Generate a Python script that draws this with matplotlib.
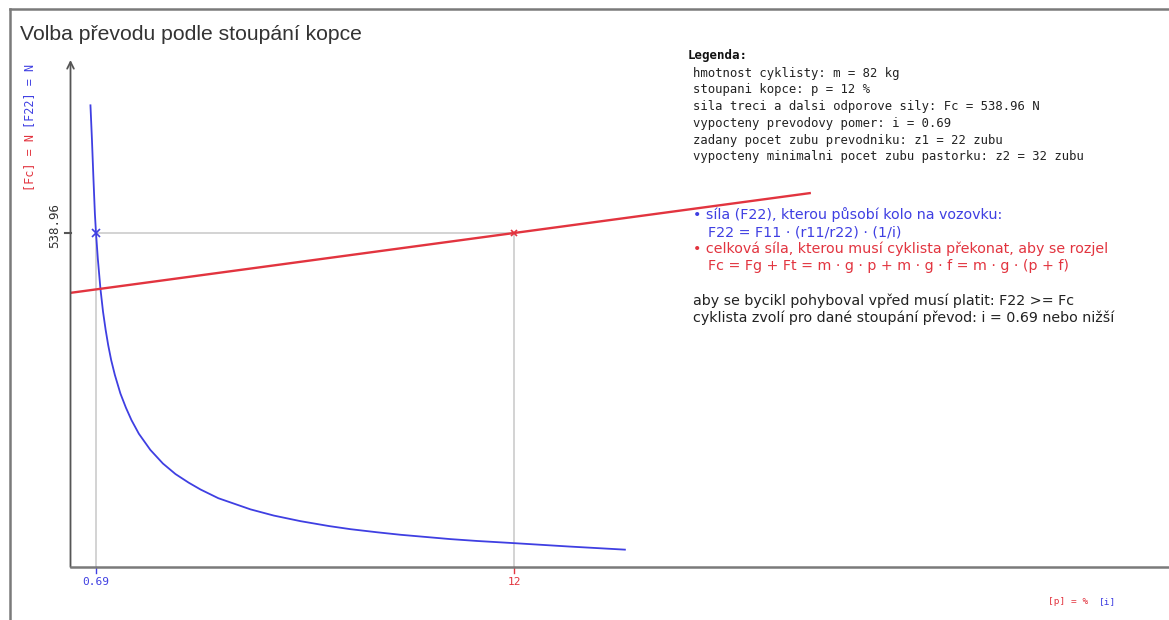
import matplotlib
matplotlib.use("Agg")
import matplotlib.pyplot as plt
from matplotlib.lines import Line2D

W, H = 1169, 620

# Force on the road F22 as a function of the gear ratio i
gear_ratio = [0.54, 0.58, 0.62, 0.66, 0.69, 0.74, 0.81, 0.88, 0.95, 1.02, 1.10,
              1.20, 1.35, 1.50, 1.65, 1.85, 2.16, 2.50, 2.84, 3.20, 3.52, 4.00,
              4.87, 5.50, 6.22, 7.00, 7.58, 8.30, 8.93, 10.28, 11.0, 12.0, 13.5, 15.0]
force_f22 = [745.0, 690.0, 628.0, 570.0, 538.96, 497.0, 449.0, 412.0, 383.0, 358.0,
             334.0, 310.0, 280.0, 257.0, 237.0, 215.0, 189.0, 167.0, 150.0, 136.0,
             125.0, 111.0, 93.0, 83.0, 74.0, 66.0, 61.0, 56.0, 52.0, 45.0, 42.0,
             38.5, 33.0, 28.0]

# Total resistance Fc as a function of the slope p [%]
slope = [0, 12, 20]
force_fc = [442.4, 538.96, 603.3]

chosen_ratio = 0.69
chosen_slope = 12
chosen_force = 538.96

x_tick_labels = ["0.69", "12"]

title = "Volba převodu podle stoupání kopce"
legend_lines = [
    "hmotnost cyklisty: m = 82 kg",
    "stoupani kopce: p = 12 %",
    "sila treci a dalsi odporove sily: Fc = 538.96 N",
    "vypocteny prevodovy pomer: i = 0.69",
    "zadany pocet zubu prevodniku: z1 = 22 zubu",
    "vypocteny minimalni pocet zubu pastorku: z2 = 32 zubu",
]

BLUE = "#3f3fe2"
RED = "#e2343f"
GREY = "#cccccc"
DARK = "#333333"

plt.rcParams['font.family'] = ['Liberation Sans', 'DejaVu Sans']

fig = plt.figure(figsize=(W / 100, H / 100), dpi=100)
fig.patch.set_facecolor("white")


def fx(x):
    return x / W


def fy(y):
    return 1 - y / H


# Plot area
ax_left, ax_right, ax_top, ax_bottom = 70.5, 1169, 60, 567
ax = fig.add_axes([fx(ax_left), fy(ax_bottom), fx(ax_right - ax_left),
                   (ax_bottom - ax_top) / H])
ax.set_xlim(0, (ax_right - ax_left) / 36.96)
ax.set_ylim(0, (ax_bottom - ax_top) / 0.6197)
ax.axis("off")
ax.patch.set_alpha(0)

# Guide lines through the chosen operating point
ax.plot([chosen_ratio, chosen_slope], [chosen_force, chosen_force], color=GREY, lw=1.2, zorder=1)
ax.plot([chosen_ratio, chosen_ratio], [0, chosen_force], color=GREY, lw=1.2, zorder=1)
ax.plot([chosen_slope, chosen_slope], [0, chosen_force], color=GREY, lw=1.2, zorder=1)

ax.plot(gear_ratio, force_f22, color=BLUE, lw=1.3, zorder=3, solid_joinstyle="round")
ax.plot(slope, force_fc, color=RED, lw=1.7, zorder=3)

ax.plot([chosen_ratio], [chosen_force], marker="x", color=BLUE, ms=6, mew=1.2, zorder=4)
ax.plot([chosen_slope], [chosen_force], marker="x", color=RED, ms=4, mew=1.2, zorder=4)

# Frame and axes drawn in figure space
axis_col = "#555555"
fig.add_artist(Line2D([fx(ax_left), 1.0], [fy(ax_bottom), fy(ax_bottom)], color="#7a7a7a", lw=1.8))
fig.add_artist(Line2D([fx(10), fx(10)], [fy(9), 0.0], color="#7a7a7a", lw=1.8))
fig.add_artist(Line2D([fx(10), 1.0], [fy(9), fy(9)], color="#7a7a7a", lw=1.8))
ax.annotate("", xy=(0, (ax_bottom - ax_top) / 0.6197), xytext=(0, 0),
            arrowprops=dict(arrowstyle="->", color=axis_col, lw=1.3,
                            mutation_scale=12, shrinkA=0, shrinkB=0),
            annotation_clip=False)

# Ticks
ax.plot([chosen_ratio, chosen_ratio], [0, -9], color=BLUE, lw=1.0, clip_on=False)
ax.plot([chosen_slope, chosen_slope], [0, -9], color=RED, lw=1.0, clip_on=False)
ax.plot([-0.15, 0], [chosen_force, chosen_force], color=axis_col, lw=1.5, clip_on=False)

mono = "DejaVu Sans Mono"
ax.text(chosen_ratio, -24, x_tick_labels[0], color=BLUE, ha="center", va="center",
        fontsize=8, family=mono)
ax.text(chosen_slope, -24, x_tick_labels[1], color=RED, ha="center", va="center",
        fontsize=8, family=mono)
fig.text(fx(55), fy(226), "538.96", rotation=90, ha="center", va="center",
         fontsize=9, color=DARK, family=mono)

# Axis unit labels
fig.text(fx(30), fy(191), "[Fc] = N", rotation=90, ha="center", va="bottom",
         fontsize=8.5, color=RED, family=mono)
fig.text(fx(30), fy(128), "[F22] = N", rotation=90, ha="center", va="bottom",
         fontsize=8.5, color=BLUE, family=mono)
fig.text(fx(1048), fy(602), "[p] = %", ha="left", va="center",
         fontsize=6.8, color=RED, family=mono)
fig.text(fx(1099), fy(602), "[i]", ha="left", va="center",
         fontsize=6.8, color=BLUE, family=mono)

# Title
fig.text(fx(20), fy(34), title, ha="left", va="center", fontsize=15.2, color=DARK)

# Legend block
fig.text(fx(688), fy(56), "Legenda:", ha="left", va="center", fontsize=9,
         fontweight="bold", color="#111111", family=mono)
for k, line in enumerate(legend_lines):
    fig.text(fx(693), fy(73 + k * 16.8), line, ha="left", va="center", fontsize=8.8,
             color="#222222", family=mono)

# Explanation block
fs = 10.25
sans = "DejaVu Sans"
fig.text(fx(693), fy(215), "• síla (F22), kterou působí kolo na vozovku:", ha="left",
         va="center", fontsize=fs, color=BLUE, family=sans)
fig.text(fx(708), fy(232), "F22 = F11 · (r11/r22) · (1/i)", ha="left", va="center",
         fontsize=fs, color=BLUE, family=sans)
fig.text(fx(693), fy(249), "• celková síla, kterou musí cyklista překonat, aby se rozjel",
         ha="left", va="center", fontsize=fs, color=RED, family=sans)
fig.text(fx(708), fy(266), "Fc = Fg + Ft = m · g · p + m · g · f = m · g · (p + f)",
         ha="left", va="center", fontsize=fs, color=RED, family=sans)
fig.text(fx(693), fy(301), "aby se bycikl pohyboval vpřed musí platit: F22 >= Fc",
         ha="left", va="center", fontsize=fs, color="#222222", family=sans)
fig.text(fx(693), fy(318), "cyklista zvolí pro dané stoupání převod: i = 0.69 nebo nižší",
         ha="left", va="center", fontsize=fs, color="#222222", family=sans)

fig.savefig("out.png", dpi=100, facecolor="white")
